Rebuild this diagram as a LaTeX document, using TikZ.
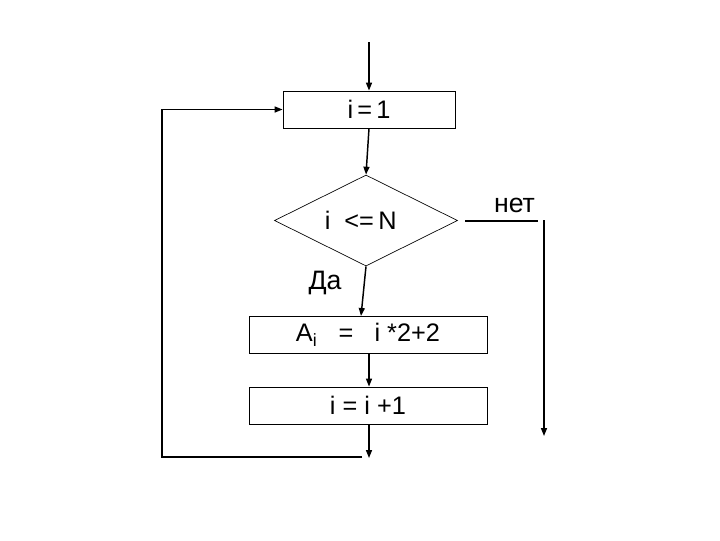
\documentclass[tikz,border=0pt]{standalone}
\usepackage{fontspec}
\setmainfont{Liberation Sans}
\usetikzlibrary{arrows.meta,shapes.geometric}

\tikzset{
  blockbox/.style={draw,line width=0.6pt,minimum width=129pt,minimum height=27.75pt,inner sep=0.75pt},
  flowline/.style={line width=1.1pt},
  flowarrow/.style={line width=1.1pt,-{Triangle[length=6pt,width=4.5pt]}},
  flowlabel/.style={inner sep=0.75pt,font=\fontsize{20}{23}\selectfont},
}

\begin{document}
\begin{tikzpicture}[x=0.75pt,y=0.75pt,yscale=-1,xscale=1,font=\fontsize{19}{22}\selectfont]
\path[use as bounding box] (0,0) rectangle (720,540); %set diagram to 720 x 540

%Shape: Rectangle
\draw (369,109.5) node [blockbox] (init) {i\,=\,1};
%Shape: Diamond
\draw (366,220.5) node [draw,diamond,line width=0.5pt,minimum width=137.25pt,minimum height=68.25pt,inner sep=0pt] (cond) {\hspace*{-8pt}i\ \ <=\,N};
%Shape: Rectangle
\draw (368,334.5) node [blockbox,minimum width=178.5pt] (calc) {A\textsubscript{i}\ \ \ =\ \ \ i *2+2};
%Shape: Rectangle
\draw (368,405.5) node [blockbox,minimum width=178.5pt] (incr) {i = i +1};

\coordinate (entry) at (369,42);
\coordinate (yesend) at (361,316);
\coordinate (loopend) at (369,458);
\coordinate (loopstart) at (362,457);
\coordinate (loopcorner) at (162,457);
\coordinate (nostart) at (465,221);
\coordinate (noturn) at (538,221);
\coordinate (nodown) at (544,220);
\coordinate (noexit) at (544,436);

%Straight Lines
\draw [flowarrow] (entry) -- (init.north) ;
%Straight Lines
\draw [flowarrow] (init.south) -- (cond.north) ;
%Straight Lines
\draw [flowarrow] (cond.south) -- (yesend) ;
%Straight Lines
\draw [flowarrow] (calc.south -| init) -- (incr.north -| init) ;
%Straight Lines
\draw [flowarrow] (incr.south -| init) -- (loopend) ;
%Straight Lines
\draw [flowarrow] (loopstart) -- (loopcorner) |- (init.west) ;
%Straight Lines
\draw [flowline] (nostart) -- (noturn) ;
%Straight Lines
\draw [flowarrow] (nodown) -- (noexit) ;

% Text Node
\draw (514.5,205) node [flowlabel] (nolabel) {нет};
% Text Node
\draw (325,283) node [flowlabel] (yeslabel) {Да};

\end{tikzpicture}
\end{document}
